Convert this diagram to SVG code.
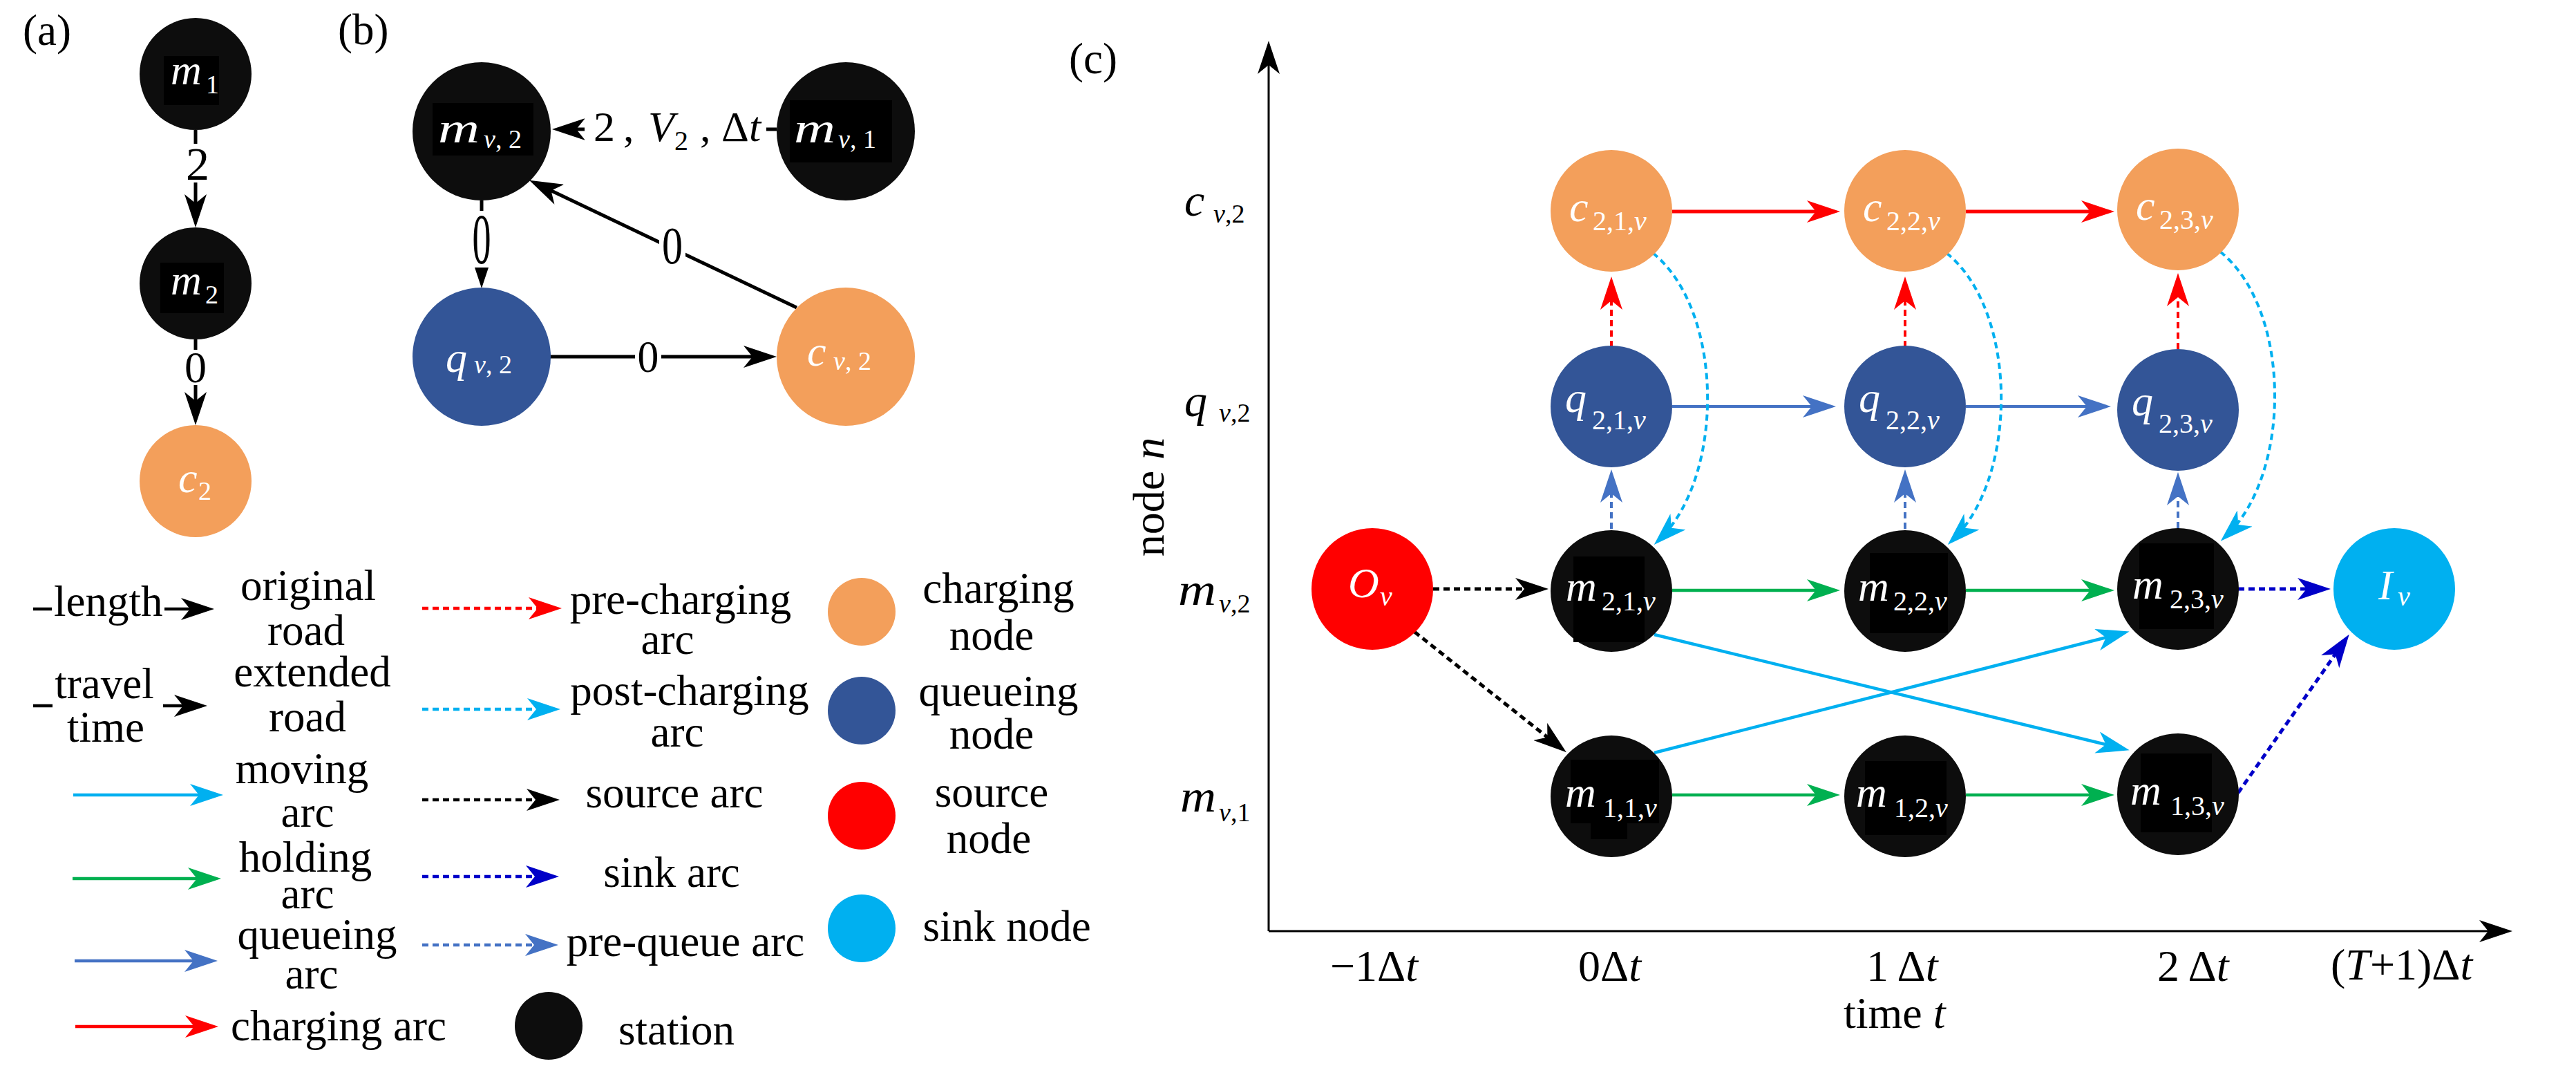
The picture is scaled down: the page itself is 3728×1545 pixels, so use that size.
<svg xmlns="http://www.w3.org/2000/svg" width="3728" height="1545" viewBox="0 0 3728 1545">
<style>
text{font-family:"Liberation Serif","Times New Roman",serif;fill:#000}
.it{font-style:italic}
.w{fill:#fff}
.f63{font-size:63px}
.f64{font-size:64px}
.mn{font-size:62px;font-style:italic}
.sb{font-size:40px}
.sb38{font-size:38px}
.mid{text-anchor:middle}
.ln{fill:none;stroke-width:5}
.thin{stroke-width:4.5}
.dot{stroke-dasharray:9 6}
.k{stroke:#000}.r{stroke:#ff0000}.c{stroke:#00b0f0}.g{stroke:#00b050}.b{stroke:#4472c4}.d{stroke:#0000c8}
.st{fill:#0d0d0d}.or{fill:#f39f5b}.qu{fill:#335597}.so{fill:#ff0000}.si{fill:#00b0f0}
.bk{fill:#000}
.wb{fill:#fff}
</style>
<defs>
<marker id="mk" viewBox="0 0 48 32" markerWidth="48" markerHeight="32" markerUnits="userSpaceOnUse" refX="38" refY="16" orient="auto"><path d="M0,0 L48,16 L0,32 L13,16 Z" fill="#000"/></marker>
<marker id="mr" viewBox="0 0 48 32" markerWidth="48" markerHeight="32" markerUnits="userSpaceOnUse" refX="38" refY="16" orient="auto"><path d="M0,0 L48,16 L0,32 L13,16 Z" fill="#ff0000"/></marker>
<marker id="mc" viewBox="0 0 48 32" markerWidth="48" markerHeight="32" markerUnits="userSpaceOnUse" refX="38" refY="16" orient="auto"><path d="M0,0 L48,16 L0,32 L13,16 Z" fill="#00b0f0"/></marker>
<marker id="mg" viewBox="0 0 48 32" markerWidth="48" markerHeight="32" markerUnits="userSpaceOnUse" refX="38" refY="16" orient="auto"><path d="M0,0 L48,16 L0,32 L13,16 Z" fill="#00b050"/></marker>
<marker id="mb" viewBox="0 0 48 32" markerWidth="48" markerHeight="32" markerUnits="userSpaceOnUse" refX="38" refY="16" orient="auto"><path d="M0,0 L48,16 L0,32 L13,16 Z" fill="#4472c4"/></marker>
<marker id="md" viewBox="0 0 48 32" markerWidth="48" markerHeight="32" markerUnits="userSpaceOnUse" refX="38" refY="16" orient="auto"><path d="M0,0 L48,16 L0,32 L13,16 Z" fill="#0000c8"/></marker>
</defs>
<rect width="3728" height="1545" fill="#fff"/>

<!-- panel labels -->
<text class="f63" x="33" y="65">(a)</text>
<text class="f63" x="489" y="64">(b)</text>
<text class="f63" x="1547" y="106">(c)</text>

<!-- connectors -->
<g id="connectors">
  <!-- panel a -->
  <path class="ln k" d="M283,188 L283,319" marker-end="url(#mk)"/>
  <path class="ln k" d="M283,491 L283,605" marker-end="url(#mk)"/>
  <!-- panel b -->
  <path class="ln k" d="M1124,187 L809,187" marker-end="url(#mk)"/>
  <path class="ln k" d="M697,290 L697,407" marker-end="url(#mk)"/>
  <path class="ln k" d="M1153,445 L775,265" marker-end="url(#mk)"/>
  <path class="ln k" d="M796,516 L1114,516" marker-end="url(#mk)"/>
  <!-- panel c axes -->
  <path class="ln k" style="stroke-width:3" d="M1836,1347 L1836,69" marker-end="url(#mk)"/>
  <path class="ln k" style="stroke-width:3" d="M1836,1347 L3626,1347" marker-end="url(#mk)"/>
  <!-- charging arcs -->
  <path class="ln r" d="M2420,306 L2653,306" marker-end="url(#mr)"/>
  <path class="ln r" d="M2845,306 L3050,306" marker-end="url(#mr)"/>
  <!-- queueing arcs -->
  <path class="ln b" style="stroke-width:4" d="M2420,588 L2647,588" marker-end="url(#mb)"/>
  <path class="ln b" style="stroke-width:4" d="M2845,588 L3045,588" marker-end="url(#mb)"/>
  <!-- holding arcs -->
  <path class="ln g thin" d="M2420,854 L2653,854" marker-end="url(#mg)"/>
  <path class="ln g thin" d="M2845,854 L3050,854" marker-end="url(#mg)"/>
  <path class="ln g thin" d="M2420,1150 L2653,1150" marker-end="url(#mg)"/>
  <path class="ln g thin" d="M2845,1150 L3050,1150" marker-end="url(#mg)"/>
  <!-- pre-charging arcs -->
  <path class="ln r dot" style="stroke-width:4" d="M2332,502 L2332,410" marker-end="url(#mr)"/>
  <path class="ln r dot" style="stroke-width:4" d="M2757,502 L2757,410" marker-end="url(#mr)"/>
  <path class="ln r dot" style="stroke-width:4" d="M3152,505 L3152,405" marker-end="url(#mr)"/>
  <!-- pre-queue arcs -->
  <path class="ln b dot" style="stroke-width:4" d="M2332,765 L2332,689" marker-end="url(#mb)"/>
  <path class="ln b dot" style="stroke-width:4" d="M2757,765 L2757,689" marker-end="url(#mb)"/>
  <path class="ln b dot" style="stroke-width:4" d="M3152,764 L3152,693" marker-end="url(#mb)"/>
  <!-- post-charging arcs -->
  <path class="ln c dot" style="stroke-width:4" d="M2392,366 C2496,450 2496,690 2401,781" marker-end="url(#mc)"/>
  <path class="ln c dot" style="stroke-width:4" d="M2817,366 C2921,450 2921,690 2826,781" marker-end="url(#mc)"/>
  <path class="ln c dot" style="stroke-width:4" d="M3213,364 C3317,448 3317,686 3221,776" marker-end="url(#mc)"/>
  <!-- moving arcs -->
  <path class="ln c thin" d="M2394,918 L3072,1083" marker-end="url(#mc)"/>
  <path class="ln c thin" d="M2394,1089 L3072,916" marker-end="url(#mc)"/>
  <!-- source arcs -->
  <path class="ln k dot" d="M2074,852 L2231,852" marker-end="url(#mk)"/>
  <path class="ln k dot" d="M2047,914 L2259,1082" marker-end="url(#mk)"/>
  <!-- sink arcs -->
  <path class="ln d dot" d="M3239,852 L3363,852" marker-end="url(#md)"/>
  <path class="ln d dot" d="M3239,1147 L3394,926" marker-end="url(#md)"/>
  <!-- legend arrows -->
  <path class="ln k thin" d="M48,881 L300,881" marker-end="url(#mk)"/>
  <path class="ln k thin" d="M48,1021 L290,1021" marker-end="url(#mk)"/>
  <path class="ln c thin" d="M106,1150 L313,1150" marker-end="url(#mc)"/>
  <path class="ln g thin" d="M105,1271 L310,1271" marker-end="url(#mg)"/>
  <path class="ln b thin" d="M108,1390 L305,1390" marker-end="url(#mb)"/>
  <path class="ln r thin" d="M109,1485 L306,1485" marker-end="url(#mr)"/>
  <path class="ln r dot thin" d="M611,880 L803,880" marker-end="url(#mr)"/>
  <path class="ln c dot thin" d="M611,1026 L801,1026" marker-end="url(#mc)"/>
  <path class="ln k dot thin" d="M611,1157 L800,1157" marker-end="url(#mk)"/>
  <path class="ln d dot thin" d="M611,1268 L799,1268" marker-end="url(#md)"/>
  <path class="ln b dot thin" d="M611,1367 L798,1367" marker-end="url(#mb)"/>
</g>

<!-- edge labels -->
<g id="edge-labels">
  <rect class="wb" x="266" y="208" width="36" height="56"/>
  <text style="font-size:68px" x="286" y="260" class="mid">2</text>
  <rect class="wb" x="266" y="506" width="34" height="51"/>
  <text style="font-size:64px" x="283" y="553" class="mid">0</text>

  <rect class="wb" x="846" y="150" width="263" height="78"/>
  <text style="font-size:62px" y="204"><tspan x="859">2</tspan><tspan x="902">,</tspan><tspan x="938" class="it">V</tspan><tspan x="976" y="217" style="font-size:40px">2</tspan><tspan x="1013" y="204">,</tspan><tspan x="1044">Δ</tspan><tspan class="it">t</tspan></text>

  <rect class="wb" x="680" y="305" width="34" height="82"/>
  <text transform="translate(697,381) scale(0.52,1)" style="font-size:104px" class="mid">0</text>
  <rect class="wb" x="954" y="324" width="38" height="62"/>
  <text transform="translate(973,381) scale(0.78,1)" style="font-size:77px" class="mid">0</text>
  <rect class="wb" x="919" y="490" width="38" height="52"/>
  <text transform="translate(938,538) scale(0.95,1)" style="font-size:65px" class="mid">0</text>

  <rect class="wb" x="75" y="838" width="163" height="68"/>
  <text class="f63" x="78" y="891">length</text>
  <rect class="wb" x="76" y="962" width="160" height="126"/>
  <text class="f63 mid" x="151" y="1010">travel</text>
  <text class="f63 mid" x="153" y="1073">time</text>
</g>

<!-- panel (a) nodes -->
<g id="a-m1"><circle class="st" cx="283" cy="107" r="81"/><rect class="bk" x="237" y="81" width="80" height="71"/>
  <text class="mn w" x="247" y="122">m</text><text class="sb38 w" x="298" y="135">1</text></g>
<g id="a-m2"><circle class="st" cx="283" cy="410" r="81"/><rect class="bk" x="232" y="380" width="92" height="73"/>
  <text class="mn w" x="247" y="426">m</text><text class="sb38 w" x="297" y="439">2</text></g>
<g id="a-c2"><circle class="or" cx="283" cy="696" r="81"/>
  <text class="mn w" x="258" y="712">c</text><text class="sb38 w" x="287" y="723">2</text></g>

<!-- panel (b) nodes -->
<g id="b-mv2"><circle class="st" cx="697" cy="190" r="100"/><rect class="bk" x="626" y="149" width="146" height="76"/>
  <text class="mn w" x="634" y="206" textLength="60" lengthAdjust="spacingAndGlyphs">m</text>
  <text class="sb38 w" x="700" y="214"><tspan class="it">v</tspan>, 2</text></g>
<g id="b-mv1"><circle class="st" cx="1224" cy="190" r="100"/><rect class="bk" x="1143" y="145" width="148" height="90"/>
  <text class="mn w" x="1149" y="206" textLength="60" lengthAdjust="spacingAndGlyphs">m</text>
  <text class="sb38 w" x="1213" y="214"><tspan class="it">v</tspan>, 1</text></g>
<g id="b-qv2"><circle class="qu" cx="697" cy="516" r="100"/>
  <text class="mn w" x="645" y="538">q</text>
  <text class="sb38 w" x="686" y="540"><tspan class="it">v</tspan>, 2</text></g>
<g id="b-cv2"><circle class="or" cx="1224" cy="516" r="100"/>
  <text class="mn w" x="1168" y="529">c</text>
  <text class="sb38 w" x="1206" y="535"><tspan class="it">v</tspan>, 2</text></g>

<!-- panel (c) axis labels -->
<g id="axis-labels">
  <text class="f64" transform="translate(1684,719) rotate(-90)" text-anchor="middle">node <tspan class="it">n</tspan></text>
  <text style="font-size:66px" class="it" x="1714" y="312">c</text><text class="sb38" x="1756" y="322"><tspan class="it">v</tspan>,2</text>
  <text style="font-size:66px" class="it" x="1714" y="602">q</text><text class="sb38" x="1764" y="610"><tspan class="it">v</tspan>,2</text>
  <text style="font-size:66px" class="it" x="1705" y="875" textLength="55" lengthAdjust="spacingAndGlyphs">m</text><text class="sb38" x="1764" y="886"><tspan class="it">v</tspan>,2</text>
  <text style="font-size:66px" class="it" x="1708" y="1174" textLength="52" lengthAdjust="spacingAndGlyphs">m</text><text class="sb38" x="1764" y="1188"><tspan class="it">v</tspan>,1</text>
  <text class="f64" x="1925" y="1419">−1Δ<tspan class="it">t</tspan></text>
  <text class="f64" x="2284" y="1419">0Δ<tspan class="it">t</tspan></text>
  <text class="f64" x="2701" y="1419">1 Δ<tspan class="it">t</tspan></text>
  <text class="f64" x="3122" y="1419">2 Δ<tspan class="it">t</tspan></text>
  <text class="f64" x="3373" y="1417">(<tspan class="it">T</tspan>+1)Δ<tspan class="it">t</tspan></text>
  <text class="f64" x="2668" y="1487">time <tspan class="it">t</tspan></text>
</g>

<!-- panel (c) nodes -->
<g id="c-Ov"><circle class="so" cx="1986" cy="852" r="88"/>
  <text class="mn w" x="1951" y="864">O</text><text class="sb it w" x="1997" y="876">v</text></g>
<g id="c-Iv"><circle class="si" cx="3465" cy="852" r="88"/>
  <text class="mn w" x="3442" y="867">I</text><text class="sb it w" x="3470" y="876">v</text></g>

<g id="c-c21"><circle class="or" cx="2332" cy="305" r="88"/>
  <text class="mn w" x="2271" y="320">c</text><text class="sb w" x="2305" y="333">2,1,<tspan class="it">v</tspan></text></g>
<g id="c-c22"><circle class="or" cx="2757" cy="305" r="88"/>
  <text class="mn w" x="2696" y="320">c</text><text class="sb w" x="2730" y="333">2,2,<tspan class="it">v</tspan></text></g>
<g id="c-c23"><circle class="or" cx="3152" cy="303" r="88"/>
  <text class="mn w" x="3091" y="318">c</text><text class="sb w" x="3125" y="331">2,3,<tspan class="it">v</tspan></text></g>

<g id="c-q21"><circle class="qu" cx="2332" cy="588" r="88"/>
  <text class="mn w" x="2265" y="596">q</text><text class="sb w" x="2304" y="621">2,1,<tspan class="it">v</tspan></text></g>
<g id="c-q22"><circle class="qu" cx="2757" cy="588" r="88"/>
  <text class="mn w" x="2690" y="596">q</text><text class="sb w" x="2729" y="621">2,2,<tspan class="it">v</tspan></text></g>
<g id="c-q23"><circle class="qu" cx="3152" cy="593" r="88"/>
  <text class="mn w" x="3085" y="601">q</text><text class="sb w" x="3124" y="626">2,3,<tspan class="it">v</tspan></text></g>

<g id="c-m21"><circle class="st" cx="2332" cy="855" r="88"/><rect class="bk" x="2277" y="805" width="103" height="124"/>
  <text class="mn w" x="2266" y="869">m</text><text class="sb w" x="2318" y="883">2,1,<tspan class="it">v</tspan></text></g>
<g id="c-m22"><circle class="st" cx="2757" cy="855" r="88"/><rect class="bk" x="2706" y="800" width="113" height="116"/>
  <text class="mn w" x="2689" y="869">m</text><text class="sb w" x="2740" y="883">2,2,<tspan class="it">v</tspan></text></g>
<g id="c-m23"><circle class="st" cx="3152" cy="852" r="88"/><rect class="bk" x="3096" y="786" width="108" height="124"/>
  <text class="mn w" x="3086" y="866">m</text><text class="sb w" x="3140" y="880">2,3,<tspan class="it">v</tspan></text></g>

<g id="c-m11"><circle class="st" cx="2332" cy="1152" r="88"/><rect class="bk" x="2273" y="1099" width="128" height="92"/><rect class="bk" x="2302" y="1190" width="53" height="24"/>
  <text class="mn w" x="2265" y="1167">m</text><text class="sb w" x="2320" y="1182">1,1,<tspan class="it">v</tspan></text></g>
<g id="c-m12"><circle class="st" cx="2757" cy="1152" r="88"/><rect class="bk" x="2699" y="1101" width="118" height="107"/>
  <text class="mn w" x="2686" y="1167">m</text><text class="sb w" x="2741" y="1182">1,2,<tspan class="it">v</tspan></text></g>
<g id="c-m13"><circle class="st" cx="3152" cy="1149" r="88"/><rect class="bk" x="3098" y="1090" width="103" height="114"/>
  <text class="mn w" x="3083" y="1164">m</text><text class="sb w" x="3141" y="1179">1,3,<tspan class="it">v</tspan></text></g>

<!-- legend -->
<g id="legend-text">
  <text class="f63 mid" x="446" y="868">original</text>
  <text class="f63 mid" x="443" y="933">road</text>
  <text class="f63 mid" x="452" y="993">extended</text>
  <text class="f63 mid" x="445" y="1058">road</text>
  <text class="f63 mid" x="437" y="1133">moving</text>
  <text class="f63 mid" x="445" y="1196">arc</text>
  <text class="f63 mid" x="442" y="1261">holding</text>
  <text class="f63 mid" x="445" y="1314">arc</text>
  <text class="f63 mid" x="459" y="1373">queueing</text>
  <text class="f63 mid" x="451" y="1430">arc</text>
  <text class="f63" x="334" y="1505">charging arc</text>
  <text class="f63 mid" x="985" y="888">pre-charging</text>
  <text class="f63 mid" x="966" y="946">arc</text>
  <text class="f63 mid" x="998" y="1020">post-charging</text>
  <text class="f63 mid" x="980" y="1080">arc</text>
  <text class="f63 mid" x="976" y="1168">source arc</text>
  <text class="f63 mid" x="972" y="1283">sink arc</text>
  <text class="f63 mid" x="992" y="1383">pre-queue arc</text>
  <text class="f63 mid" x="979" y="1511">station</text>
  <text class="f63 mid" x="1445" y="872">charging</text>
  <text class="f63 mid" x="1435" y="940">node</text>
  <text class="f63 mid" x="1445" y="1021">queueing</text>
  <text class="f63 mid" x="1435" y="1083">node</text>
  <text class="f63 mid" x="1435" y="1167">source</text>
  <text class="f63 mid" x="1431" y="1234">node</text>
  <text class="f63 mid" x="1457" y="1361">sink node</text>
</g>
<g id="legend-station"><circle class="st" cx="794" cy="1484" r="49"/></g>
<g id="legend-charging"><circle class="or" cx="1247" cy="885" r="49"/></g>
<g id="legend-queueing"><circle class="qu" cx="1247" cy="1028" r="49"/></g>
<g id="legend-source"><circle class="so" cx="1247" cy="1180" r="49"/></g>
<g id="legend-sink"><circle class="si" cx="1247" cy="1343" r="49"/></g>
</svg>
